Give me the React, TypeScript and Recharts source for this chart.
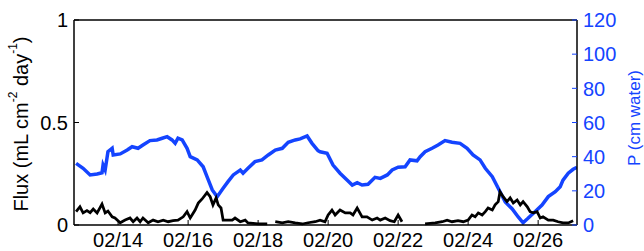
import React from "react";
import { LineChart, Line, XAxis, YAxis, ReferenceLine } from "recharts";

// time in days of February (14 = 02/14 00:00)
const fluxTime: number[] = [
  12.8, 12.91, 13.0, 13.11, 13.2, 13.29, 13.4, 13.54, 13.63, 13.71, 13.83, 13.91,
  14.06, 14.2, 14.34, 14.43, 14.54, 14.63, 14.71, 14.86, 15.0, 15.14, 15.29, 15.43,
  15.57, 15.71, 15.86, 15.97, 16.06, 16.2, 16.29, 16.4, 16.54, 16.63, 16.71, 16.8,
  16.86, 16.94, 17.0, 17.11, 17.26, 17.34, 17.49, 17.63, 17.71, 18.0, 18.26, 18.38,
  18.49, 18.69, 18.86, 19.06, 19.26, 19.43, 19.63, 19.77, 19.91, 20.0, 20.11, 20.2,
  20.34, 20.49, 20.63, 20.71, 20.83, 20.97, 21.11, 21.26, 21.4, 21.49, 21.63, 21.77,
  21.89, 22.0, 22.11, 22.4, 22.77, 23.06, 23.26, 23.4, 23.54, 23.71, 23.86, 24.0,
  24.11, 24.2, 24.29, 24.4, 24.49, 24.57, 24.69, 24.77, 24.86, 24.91, 25.0, 25.11,
  25.2, 25.29, 25.4, 25.49, 25.57, 25.69, 25.77, 25.86, 25.97, 26.06, 26.14, 26.29,
  26.43, 26.57, 26.71, 26.86, 27.0,
];
const fluxValues: (number | null)[] = [
  0.065, 0.089, 0.059, 0.07, 0.06, 0.078, 0.059, 0.102, 0.059, 0.068, 0.04, 0.034,
  0.011, 0.024, 0.034, 0.016, 0.034, 0.016, 0.034, 0.011, 0.024, 0.016, 0.024, 0.016,
  0.021, 0.024, 0.04, 0.065, 0.034, 0.073, 0.107, 0.127, 0.158, 0.138, 0.098, 0.132,
  0.098, 0.083, 0.024, 0.024, 0.024, 0.034, 0.016, 0.024, 0.01, 0.005, 0.005, null,
  0.016, 0.01, 0.016, 0.01, 0.005, 0.011, 0.016, 0.024, 0.016, 0.049, 0.073, 0.049,
  0.073, 0.059, 0.059, 0.049, 0.083, 0.04, 0.04, 0.024, 0.034, 0.024, 0.034, 0.021,
  0.016, 0.049, 0.016, null, 0.005, 0.01, 0.016, 0.024, 0.016, 0.021, 0.016, 0.024,
  0.049, 0.04, 0.059, 0.049, 0.065, 0.083, 0.073, 0.098, 0.114, 0.162, 0.138, 0.114,
  0.132, 0.107, 0.122, 0.098, 0.114, 0.089, 0.065, 0.059, 0.065, 0.034, 0.04, 0.024,
  0.024, 0.016, 0.01, 0.01, 0.021,
];

const pTime: number[] = [
  12.8, 13.0, 13.2, 13.4, 13.54, 13.57, 13.63, 13.71, 13.83, 13.86, 14.06, 14.26,
  14.4, 14.57, 14.71, 14.91, 15.11, 15.26, 15.4, 15.54, 15.63, 15.71, 15.83, 15.97,
  16.06, 16.26, 16.43, 16.54, 16.69, 16.83, 17.0, 17.14, 17.29, 17.49, 17.57, 17.71,
  17.91, 18.11, 18.29, 18.49, 18.69, 18.86, 19.06, 19.2, 19.4, 19.54, 19.71, 19.77,
  19.97, 20.14, 20.34, 20.54, 20.69, 20.83, 20.97, 21.14, 21.34, 21.49, 21.69, 21.83,
  22.0, 22.2, 22.34, 22.54, 22.63, 22.77, 22.97, 23.14, 23.34, 23.54, 23.77, 23.97,
  24.14, 24.34, 24.49, 24.69, 24.86, 25.06, 25.26, 25.43, 25.57, 25.71, 25.91, 26.11,
  26.29, 26.49, 26.63, 26.71, 26.86, 27.0, 27.11,
];
const pValues: number[] = [
  36.1, 33.2, 29.3, 29.9, 30.6, 35.1, 32.2, 42.9, 44.9, 41.0, 41.6, 43.9,
  45.8, 44.9, 46.8, 49.4, 49.8, 50.8, 51.7, 49.8, 47.8, 50.8, 49.8, 44.9,
  40.0, 38.1, 34.1, 28.3, 20.5, 16.6, 21.5, 25.4, 29.3, 32.2, 30.3, 33.2,
  37.1, 38.1, 41.0, 43.9, 44.9, 48.4, 49.8, 50.4, 52.1, 47.8, 43.5, 42.9,
  42.0, 35.1, 30.3, 26.3, 23.4, 24.8, 23.4, 23.8, 27.9, 27.3, 29.3, 32.2,
  33.8, 34.1, 38.1, 37.6, 40.0, 42.9, 44.9, 46.8, 49.4, 48.4, 47.8, 44.9,
  41.0, 38.1, 33.2, 28.3, 21.5, 13.5, 9.4, 4.7, 1.3, 3.9, 7.8, 11.7,
  16.6, 19.5, 22.4, 26.3, 30.3, 32.6, 33.8,
];

const xTicks = [14, 16, 18, 20, 22, 24, 26];
const fluxTicks = [0, 0.5, 1];
const pTicks = [0, 20, 40, 60, 80, 100, 120];

const fluxData = fluxTime.map((t, i) => ({ t, flux: fluxValues[i] }));
const pData = pTime.map((t, i) => ({ t, p: pValues[i] }));

const BLUE = "#1444ff";
const FONT = "'Liberation Sans', Arial, Helvetica, sans-serif";

const BottomTick = (props: any) => {
  const { x, y, payload } = props;
  const d = String(payload.value).padStart(2, "0");
  return (
    <g>
      <line x1={x} y1={y} x2={x} y2={y - 5} stroke="#000" strokeWidth={1} />
      <text x={x} y={y + 22} textAnchor="middle" fontSize={20} fill="#000" fontFamily={FONT}>
        {"02/" + d}
      </text>
    </g>
  );
};

const LeftTick = (props: any) => {
  const { x, y, payload } = props;
  return (
    <g>
      <line x1={x} y1={y} x2={x + 5} y2={y} stroke="#000" strokeWidth={1} />
      <text x={x - 6} y={y} dy="0.36em" textAnchor="end" fontSize={20} fill="#000" fontFamily={FONT}>
        {String(payload.value)}
      </text>
    </g>
  );
};

const RightTick = (props: any) => {
  const { x, y, payload } = props;
  return (
    <g>
      <line x1={x} y1={y} x2={x - 5} y2={y} stroke={BLUE} strokeWidth={1} />
      <text x={x + 6} y={y} dy="0.36em" textAnchor="start" fontSize={20} fill={BLUE} fontFamily={FONT}>
        {String(payload.value)}
      </text>
    </g>
  );
};

const LeftLabel = () => (
  <text
    x={21}
    y={124}
    transform="rotate(-90, 21, 124)"
    textAnchor="middle"
    dominantBaseline="central"
    fontSize={20}
    fill="#000"
    fontFamily={FONT}
  >
    <tspan>Flux (mL cm</tspan>
    <tspan dy={-8} fontSize={12}>-2</tspan>
    <tspan dy={8}> day</tspan>
    <tspan dy={-8} fontSize={12}>-1</tspan>
    <tspan dy={8}>)</tspan>
  </text>
);

const RightLabel = () => (
  <text
    x={634}
    y={118}
    transform="rotate(-90, 634, 118)"
    textAnchor="middle"
    dominantBaseline="central"
    fontSize={17}
    fill={BLUE}
    fontFamily={FONT}
  >
    P (cm water)
  </text>
);

export default function App() {
  return (
    <div style={{ position: "absolute", left: 0, top: 0, background: "#fff" }}>
      <LineChart width={644} height={251} margin={{ top: 20, right: 0, bottom: 0, left: 0 }}>
        <XAxis
          dataKey="t"
          type="number"
          domain={[12.74, 27.11]}
          ticks={xTicks}
          allowDataOverflow
          height={26}
          tickSize={0}
          tickMargin={0}
          tick={<BottomTick />}
          axisLine={{ stroke: "#000", strokeWidth: 1.5 }}
          tickLine={false}
        />
        <YAxis
          yAxisId="flux"
          orientation="left"
          domain={[0, 1]}
          ticks={fluxTicks}
          width={74}
          tickSize={0}
          tickMargin={0}
          tick={<LeftTick />}
          axisLine={{ stroke: "#000", strokeWidth: 1.5 }}
          tickLine={false}
          label={{ content: <LeftLabel /> }}
        />
        <YAxis
          yAxisId="p"
          orientation="right"
          domain={[0, 120]}
          ticks={pTicks}
          width={67}
          tickSize={0}
          tickMargin={0}
          tick={<RightTick />}
          axisLine={{ stroke: "#000", strokeWidth: 1.5 }}
          tickLine={false}
          label={{ content: <RightLabel /> }}
        />
        <ReferenceLine yAxisId="flux" y={1} stroke="#000" strokeWidth={1.5} />
        <Line
          yAxisId="p"
          data={pData}
          dataKey="p"
          type="linear"
          stroke={BLUE}
          strokeWidth={3.5}
          dot={false}
          isAnimationActive={false}
        />
        <Line
          yAxisId="flux"
          data={fluxData}
          dataKey="flux"
          type="linear"
          stroke="#000"
          strokeWidth={2.75}
          dot={false}
          connectNulls={false}
          isAnimationActive={false}
        />
      </LineChart>
    </div>
  );
}
